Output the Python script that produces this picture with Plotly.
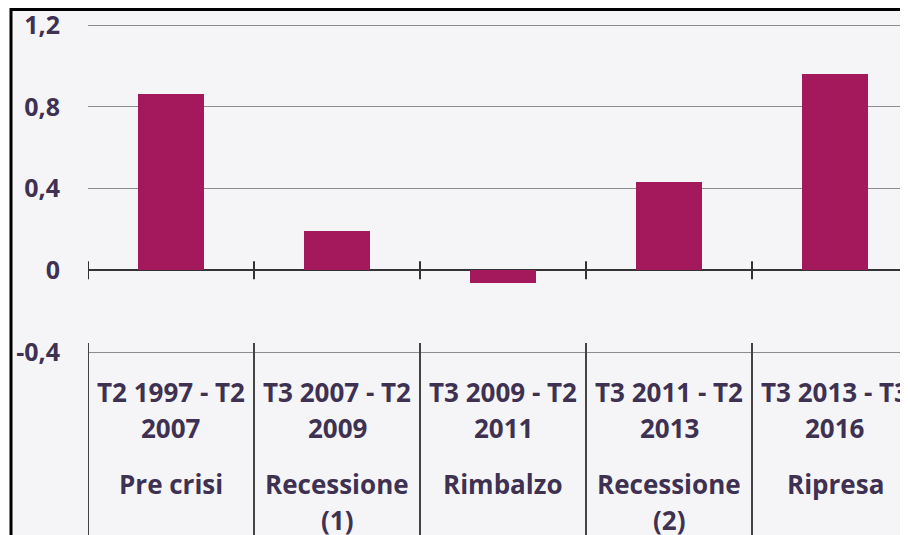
import plotly.graph_objects as go

# Data
periods = ["T2 1997 - T2<br>2007", "T3 2007 - T2<br>2009", "T3 2009 - T2<br>2011",
           "T3 2011 - T2<br>2013", "T3 2013 - T3<br>2016"]
phases = ["Pre crisi", "Recessione<br>(1)", "Rimbalzo", "Recessione<br>(2)", "Ripresa"]
values = [0.86, 0.19, -0.06, 0.43, 0.96]
tick_vals = [1.2, 0.8, 0.4, 0, -0.4]
tick_text = ["1,2", "0,8", "0,4", "0", "-0,4"]

BAR = "#A3195B"
TXT = "#3F3151"
BG = "#F5F5F8"
FONT = "Open Sans"

W, H = 908, 535
ML, MT = 80, 0
plot_h = H - MT
plot_w = W - ML
k = 327 / 1.6  # px per unit
y_top = 1.2 + (17 - MT) / k
y_bot = -0.4 - (H - 344) / k
x_rng = [-0.5, -0.5 + plot_w / 166]

xs = list(range(len(values)))

fig = go.Figure()
fig.add_trace(go.Bar(x=xs, y=values, width=0.4, marker=dict(color=BAR, line=dict(width=0)),
                     hoverinfo="skip"))

shapes = []
# frame / background
shapes.append(dict(type="rect", xref="paper", yref="paper",
                   x0=(3 - ML) / plot_w, x1=1.05, y0=-0.05, y1=(H - 1.5) / plot_h,
                   line=dict(color="black", width=3), fillcolor=BG, layer="below"))
# ticks on zero line and category separators
for i in range(len(values) + 1):
    xb = i - 0.5
    shapes.append(dict(type="line", xref="x", yref="y", x0=xb, x1=xb, y0=-9 / k, y1=9 / k,
                       line=dict(color="#333333", width=2)))
    shapes.append(dict(type="line", xref="x", yref="y", x0=xb, x1=xb, y0=-0.4 + 9 / k, y1=y_bot - 0.1,
                       line=dict(color="#444444", width=2)))

annotations = []
def add_lines(text, i, first_px, spacing=35.5):
    for j, line in enumerate(text.split("<br>")):
        py = first_px + j * spacing
        annotations.append(dict(x=i, xref="x", y=(H - py) / plot_h, yref="paper",
                                text=line, showarrow=False, xanchor="center", yanchor="middle",
                                font=dict(family=FONT, size=26, color=TXT, weight="bold")))

for i in xs:
    add_lines(periods[i], i, 384)
    add_lines(phases[i], i, 476)

fig.update_layout(
    width=W, height=H,
    margin=dict(l=ML, r=0, t=MT, b=0, pad=0),
    paper_bgcolor="white", plot_bgcolor=BG,
    showlegend=False, bargap=0,
    shapes=shapes, annotations=annotations,
    font=dict(family=FONT, color=TXT),
)
fig.update_xaxes(range=x_rng, showticklabels=False, showgrid=False, zeroline=False,
                 showline=False, ticks="")
fig.update_yaxes(range=[y_bot, y_top], tickvals=tick_vals, ticktext=tick_text,
                 showgrid=True, gridcolor="#8C8C8C", gridwidth=1.3,
                 zeroline=True, zerolinecolor="#333333", zerolinewidth=2,
                 showline=False, ticks="", ticklabelstandoff=27,
                 ticklabeloverflow="allow",
                 tickfont=dict(family=FONT, size=25, color=TXT, weight="bold"))

fig.write_html("out.html")
